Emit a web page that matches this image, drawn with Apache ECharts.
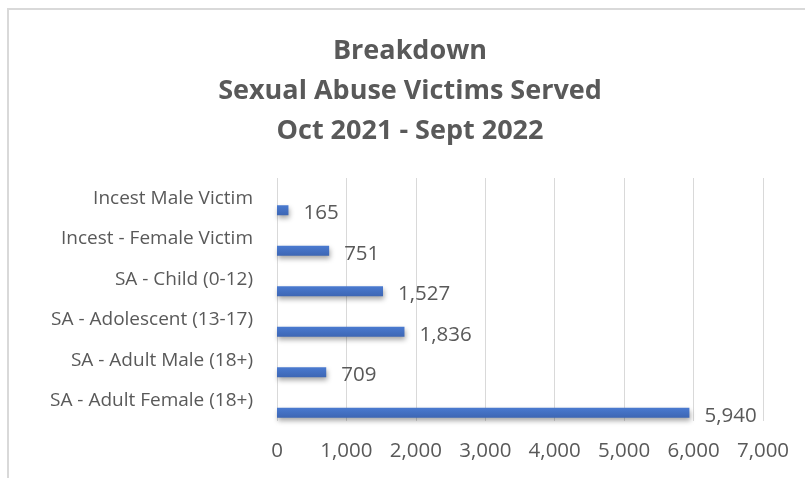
<!DOCTYPE html>
<html>
<head>
<meta charset="utf-8">
<script src="https://cdn.jsdelivr.net/npm/echarts@6/dist/echarts.min.js"></script>
<style>
html, body { margin: 0; padding: 0; background: #fff; }
#chart { width: 805px; height: 478px; }
</style>
</head>
<body>
<div id="chart"></div>
<script>
var categories = ['Incest Male Victim', 'Incest - Female Victim', 'SA - Child (0-12)',
	'SA - Adolescent (13-17)', 'SA - Adult Male (18+)', 'SA - Adult Female (18+)'];
var victims = [165, 751, 1527, 1836, 709, 5940];
// empty series, only there to push the real bars below the band centre like Excel does
var spacer = [0, 0, 0, 0, 0, 0];

var font = '"Open Sans", sans-serif';
var grey = '#595959';

var chart = echarts.init(document.getElementById('chart'));
chart.setOption({
	animation: false,
	title: {
		text: 'Breakdown\nSexual Abuse Victims Served\nOct 2021 - Sept 2022',
		left: 405,
		top: 26,
		textAlign: 'center',
		textStyle: {
			fontFamily: font,
			fontSize: 27,
			fontWeight: 'bold',
			color: grey,
			lineHeight: 40
		}
	},
	graphic: [{
		type: 'rect',
		shape: { x: 8, y: 9, width: 810, height: 490 },
		style: { fill: 'none', stroke: '#d9d9d9', lineWidth: 2 }
	}],
	grid: { left: 277, right: 42, top: 178, bottom: 57 },
	xAxis: {
		type: 'value',
		min: 0,
		max: 7000,
		interval: 1000,
		axisLine: { show: false },
		axisTick: { show: false },
		splitLine: { lineStyle: { color: '#d9d9d9', width: 1 } },
		axisLabel: {
			margin: 20,
			fontFamily: font,
			fontSize: 20.5,
			color: grey,
			formatter: function(v) { return v.toLocaleString('en-US'); }
		}
	},
	yAxis: {
		type: 'category',
		inverse: true,
		data: categories,
		axisLine: { show: false },
		axisTick: { show: false },
		axisLabel: {
			margin: 24,
			fontFamily: font,
			fontSize: 19,
			color: grey
		}
	},
	series: [{
		name: 'spacer',
		type: 'bar',
		data: spacer,
		barWidth: 10,
		barGap: '140%',
		silent: true,
		itemStyle: { color: 'transparent' }
	}, {
		name: 'Victims',
		type: 'bar',
		data: victims,
		barWidth: 10,
		barGap: '140%',
		itemStyle: {
			color: new echarts.graphic.LinearGradient(0, 0, 0, 1, [
				{ offset: 0, color: '#4a7ad0' },
				{ offset: 1, color: '#3d66b4' }
			]),
			shadowColor: 'rgba(0,0,0,0.35)',
			shadowBlur: 5,
			shadowOffsetY: 3,
			shadowOffsetX: 1
		},
		label: {
			show: true,
			position: 'right',
			distance: 15,
			offset: [0, 3],
			fontFamily: font,
			fontSize: 20.5,
			color: grey,
			formatter: function(p) { return p.value.toLocaleString('en-US'); }
		}
	}]
});
</script>
</body>
</html>
